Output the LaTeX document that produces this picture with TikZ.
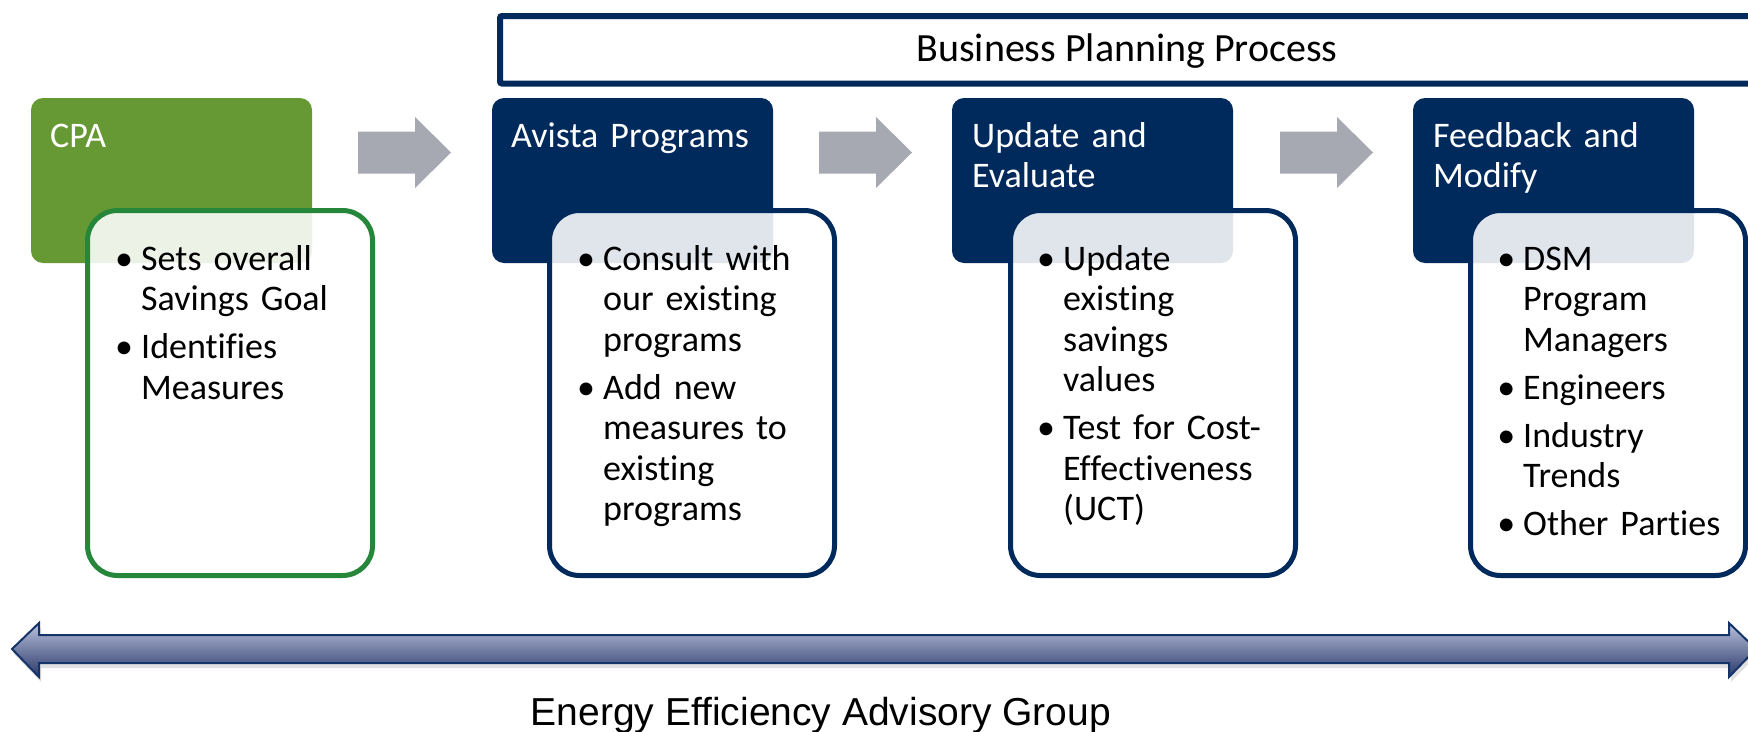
\documentclass[tikz,border=0pt]{standalone}
\usepackage{fontspec}
\setmainfont{Carlito}[Ligatures=NoCommon]
\newfontfamily\arialfont{Liberation Sans}
\definecolor{navy}{RGB}{0,41,92}
\definecolor{cpagreen}{RGB}{102,153,52}
\definecolor{greenline}{RGB}{38,135,58}
\definecolor{arrowgray}{RGB}{166,168,178}
\definecolor{bartop}{RGB}{185,193,220}
\definecolor{barbot}{RGB}{42,56,106}
\definecolor{barline}{RGB}{20,52,105}
\newcommand\bitem{\leavevmode\llap{\makebox[34pt][c]{•}}}
\begin{document}
\begin{tikzpicture}[x=1pt,y=-1pt,
  hdrbox/.style={anchor=north west, inner sep=0pt, outer sep=0pt, minimum width=281pt, minimum height=165pt, rounded corners=12pt},
  hdrtext/.style={anchor=base west, inner sep=0pt, text=white, font=\fontsize{36}{40.5}\selectfont, align=left, text width=260pt},
  cbox/.style={anchor=north west, inner sep=0pt, outer sep=0pt, minimum width=285pt, minimum height=365pt, rounded corners=30pt, line width=5pt, fill=white, fill opacity=0.88},
  ctext/.style={anchor=base west, inner sep=0pt, text=black, font=\fontsize{36}{40.5}\selectfont, align=left, text width=240pt},
  blockarrow/.style={fill=arrowgray},
]
\useasboundingbox (0,0) rectangle (1748,731);

% top banner
\node[draw=navy, line width=6pt, anchor=north west, inner sep=0pt, minimum width=1280pt, minimum height=67.5pt, rounded corners=2pt] (bpp) at (497,13) {};
\node[anchor=base, inner sep=0pt, font=\fontsize{40}{44}\selectfont] (bpptext) at (1127,61) {Business Planning Process};

% header boxes
\node[hdrbox, fill=cpagreen] (h1) at (31,98) {};
\node[hdrbox, fill=navy] (h2) at (492,98) {};
\node[hdrbox, fill=navy] (h3) at (952,98) {};
\node[hdrbox, fill=navy] (h4) at (1413,98) {};

% block arrows
\foreach \ax in {358,819,1280}{
  \fill[blockarrow, shift={(\ax,152.5)}] (0,-21) -- (57,-21) -- (57,-35.5) -- (93,0) -- (57,35.5) -- (57,21) -- (0,21) -- cycle;
}

% content boxes
\node[cbox, draw=greenline] (c1) at (87.5,210.5) {};
\node[cbox, draw=navy] (c2) at (549.5,210.5) {};
\node[cbox, draw=navy] (c3) at (1010.5,210.5) {};
\node[cbox, draw=navy, minimum width=275pt] (c4) at (1470.5,210.5) {};

% header texts
\node[hdrtext] (t1) at (50,147) {CPA};
\node[hdrtext] (t2) at (511,147) {Avista Programs};
\node[hdrtext] (t3) at (972,147) {Update and\\Evaluate};
\node[hdrtext] (t4) at (1433,147) {Feedback and\\Modify};

% content texts
\node[ctext] (b1) at (141,270) {\bitem Sets overall\\Savings Goal\\[7.5pt]\bitem Identifies\\Measures};
\node[ctext] (b2) at (603,270) {\bitem Consult with\\our existing\\programs\\[7.5pt]\bitem Add new\\measures to\\existing\\programs};
\node[ctext] (b3) at (1063,270) {\bitem Update\\existing\\savings\\values\\[7.5pt]\bitem Test for Cost-\\Effectiveness\\(UCT)};
\node[ctext] (b4) at (1523,270) {\bitem DSM\\Program\\Managers\\[7.5pt]\bitem Engineers\\[7.5pt]\bitem Industry\\Trends\\[7.5pt]\bitem Other Parties};

% bottom double arrow
\fill[black, opacity=0.12, shift={(2,5)}] (12,649) -- (39,623) -- (39,635) -- (1729,635) -- (1729,623) -- (1756,649) -- (1729,677) -- (1729,663) -- (39,663) -- (39,677) -- cycle;
\draw[barline, line width=2pt, line join=miter, top color=bartop, bottom color=barbot] (12,649) -- (39,623) -- (39,635) -- (1729,635) -- (1729,623) -- (1756,649) -- (1729,677) -- (1729,663) -- (39,663) -- (39,677) -- cycle;
\coordinate (eeagpos) at (821,725);
\node[anchor=base, inner sep=0pt, font=\arialfont\fontsize{39}{44}\selectfont] (eeag) at (eeagpos) {Energy Efficiency Advisory Group};
\end{tikzpicture}
\end{document}
